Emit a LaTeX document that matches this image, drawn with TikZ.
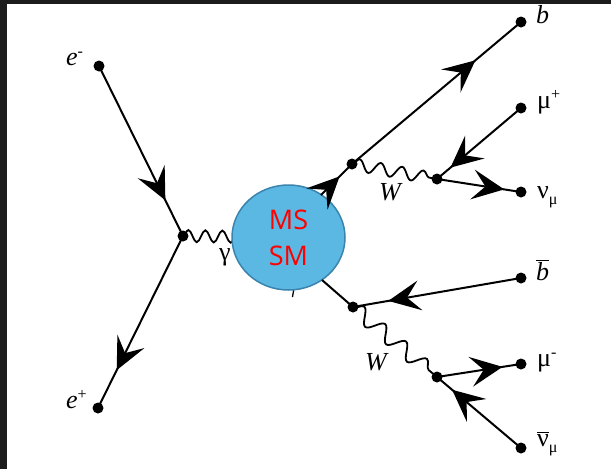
\documentclass[tikz,border=0pt]{standalone}
\usepackage{fontspec}
\setmainfont{Liberation Serif}
\newfontfamily\blobfont{Open Sans}
\usetikzlibrary{arrows.meta,decorations.markings,decorations.pathmorphing,shapes.geometric}
\definecolor{framecol}{HTML}{1C1C1C}
\definecolor{blobfill}{HTML}{5AB8E2}
\definecolor{blobline}{HTML}{3B84AE}
\tikzset{
  fermion/.style={line width=2pt, postaction={decorate},
    decoration={markings, mark=at position #1 with {\arrow{Stealth[length=32pt,width=30pt,inset=13pt]}}}},
  plain/.style={line width=2pt},
  boson/.style={line width=1.8pt, decorate, decoration={snake, segment length=#1, amplitude=6pt}},
  bosonL/.style={line width=1.8pt, decorate, decoration={snake, segment length=#1, amplitude=7.5pt}},
  dotv/.style={fill=black},
  lab/.style={font=\fontsize{26}{28}\selectfont, inner sep=0pt, anchor=base west},
  blobnode/.style={ellipse, fill=blobfill, draw=blobline, line width=1.5pt, minimum width=113pt, minimum height=105pt, inner sep=0pt, align=center, text=red, font=\blobfont\fontsize{27}{36}\selectfont}
}
\newcommand{\supsm}[1]{\raisebox{9pt}{\fontsize{16}{16}\selectfont #1}}
\newcommand{\subsm}[1]{\raisebox{-6pt}{\fontsize{16}{16}\selectfont #1}}
\begin{document}
\begin{tikzpicture}[x=1pt,y=-1pt]
\useasboundingbox (0,0) rectangle (611,469);
\fill[framecol] (0,0) rectangle (611,469);
\fill[white] (7,4) rectangle (611,469);
% vertices
\coordinate (em) at (99,66);
\coordinate (ep) at (98,408);
\coordinate (v1) at (183,236);
\coordinate (vU) at (352,164);
\coordinate (vW1) at (437,179);
\coordinate (bq) at (521,22);
\coordinate (mup) at (521,108);
\coordinate (nu) at (521,192);
\coordinate (vL) at (353,307);
\coordinate (vW2) at (437,377);
\coordinate (bb) at (521,278);
\coordinate (mum) at (521,364);
\coordinate (nub) at (521,448);
\coordinate (sU) at (321,195);
\coordinate (sL) at (322,280);
\coordinate (bc) at (288.5,237.5);
\coordinate (hidA) at (294,288);
\coordinate (hidB) at (292.5,297);
% hidden label tail behind the blob
\draw[line width=1.3pt] (hidA) -- (hidB);
% photon
\draw[boson=17pt] (v1) -- (bc);
% blob
\node[blobnode] (blob) at (bc) {MS\\SM};
% incoming
\draw[fermion=0.79] (em) -- (v1);
\draw[fermion=0.78] (v1) -- (ep);
% upper
\draw[fermion=0.6] (sU) -- (vU);
\draw[fermion=0.73] (vU) -- (bq);
\draw[boson=21.6pt] (vU) -- (vW1);
\draw[fermion=0.84] (mup) -- (vW1);
\draw[fermion=0.8] (vW1) -- (nu);
% lower
\draw[plain] (sL) -- (vL);
\draw[fermion=0.79] (bb) -- (vL);
\draw[bosonL=27.2pt] (vL) -- (vW2);
\draw[fermion=0.78] (vW2) -- (mum);
\draw[fermion=0.82] (nub) -- (vW2);
% dots
\foreach \p in {em,ep,v1,vU,vW1,bq,mup,nu,vL,vW2,bb,mum,nub}
  \fill[dotv] (\p) circle[radius=5.5pt];
% labels
\node[lab] (lem) at (66,65) {\textit{e}\supsm{-}};
\node[lab] (lep) at (66,408) {\textit{e}\supsm{+}};
\node[lab] (lg) at (219,260) {γ};
\node[lab] (lw1) at (379,200) {\textit{W}};
\node[lab] (lw2) at (365,370) {\textit{W}};
\node[lab] (lb) at (536,23) {\textit{b}};
\node[lab] (lmup) at (537,108) {μ\supsm{+}};
\node[lab] (lnu) at (537,198) {ν\subsm{μ}};
\node[lab] (lbb) at (536,280) {$\overline{\mbox{\textit{b}}}$};
\node[lab] (lmum) at (537,366) {μ\supsm{-}};
\node[lab] (lnub) at (537,446) {$\overline{\mbox{ν}}$\subsm{μ}};
\end{tikzpicture}
\end{document}
